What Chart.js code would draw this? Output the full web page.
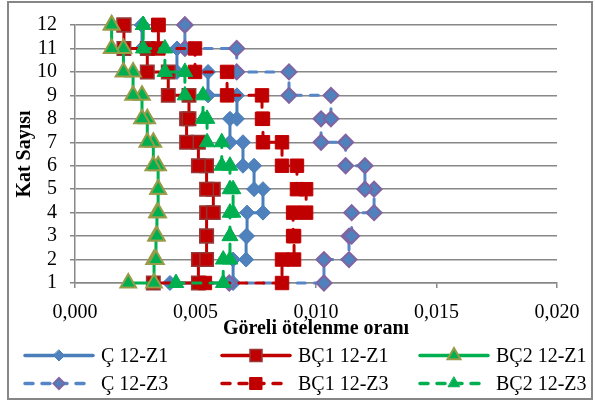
<!doctype html>
<head>
<meta charset="utf-8">
<style>
* {
    box-sizing: border-box;
    margin: 0;
    padding: 0;
}
body {
    background: #fff;
}
#wrap {
    position: relative;
    width: 595px;
    height: 403px;
}
</style>
</head>
<div id="wrap"><canvas></canvas></div>
<script src="https://cdn.jsdelivr.net/npm/chart.js"></script>
<script>

// floor levels, each floor carries two points (step profile)
let katlar = [1, 1, 2, 2, 3, 3, 4, 4, 5, 5, 6, 6, 7, 7, 8, 8, 9, 9, 10, 10, 11, 11, 12, 12]

let c_z1 = [0.00394, 0.00656, 0.00656, 0.00710, 0.00710, 0.00714, 0.00714, 0.00780, 0.00780, 0.00743, 0.00743, 0.00697,
            0.00697, 0.00643, 0.00643, 0.00672, 0.00672, 0.00552, 0.00552, 0.00423, 0.00423, 0.00278, 0.00278, 0.00278]
let bc1_z1 = [0.00325, 0.00512, 0.00512, 0.00546, 0.00546, 0.00546, 0.00546, 0.00574, 0.00574, 0.00546, 0.00546, 0.00512,
              0.00512, 0.00463, 0.00463, 0.00473, 0.00473, 0.00387, 0.00387, 0.00300, 0.00300, 0.00203, 0.00203, 0.00203]
let bc2_z1 = [0.00221, 0.00328, 0.00328, 0.00336, 0.00336, 0.00340, 0.00340, 0.00345, 0.00345, 0.00345, 0.00345, 0.00325,
              0.00325, 0.00300, 0.00300, 0.00278, 0.00278, 0.00241, 0.00241, 0.00201, 0.00201, 0.00152, 0.00152, 0.00152]
let c_z3 = [0.00640, 0.01033, 0.01033, 0.01137, 0.01137, 0.01148, 0.01148, 0.01241, 0.01241, 0.01203, 0.01203, 0.01123,
            0.01123, 0.01021, 0.01021, 0.01062, 0.01062, 0.00888, 0.00888, 0.00671, 0.00671, 0.00456, 0.00456, 0.00456]
let bc1_z3 = [0.00539, 0.00859, 0.00859, 0.00909, 0.00909, 0.00905, 0.00905, 0.00959, 0.00959, 0.00921, 0.00921, 0.00859,
              0.00859, 0.00780, 0.00780, 0.00776, 0.00776, 0.00631, 0.00631, 0.00498, 0.00498, 0.00346, 0.00346, 0.00346]
let bc2_z3 = [0.00419, 0.00615, 0.00615, 0.00643, 0.00643, 0.00643, 0.00643, 0.00656, 0.00656, 0.00643, 0.00643, 0.00609,
              0.00609, 0.00548, 0.00548, 0.00531, 0.00531, 0.00456, 0.00456, 0.00373, 0.00373, 0.00283, 0.00283, 0.00283]

let names = ['Ç 12-Z1', 'BÇ1 12-Z1', 'BÇ2 12-Z1', 'Ç 12-Z3', 'BÇ1 12-Z3', 'BÇ2 12-Z3']
let values = [c_z1, bc1_z1, bc2_z1, c_z3, bc1_z3, bc2_z3]

let x_ticks = [0, 0.005, 0.01, 0.015, 0.02]

let styles = [
    { line: '#4a7ebb', fill: '#4f81bd', edge: '#4a7ebb', edgeW: 1, marker: 'rectRot', r: 7.5, legendR: 5.5, dash: [] },
    { line: '#c00000', fill: '#c00000', edge: '#953735', edgeW: 1.5, marker: 'rect', r: 9.5, legendR: 8.5, dash: [] },
    { line: '#00b050', fill: '#00b050', edge: '#989c48', edgeW: 2, marker: 'triangle', r: 9, legendR: 7.5, dash: [] },
    { line: '#5686c6', fill: '#4f81bd', edge: '#8064a2', edgeW: 2, marker: 'rectRot', r: 7.5, legendR: 5.5, dash: [8, 9] },
    { line: '#c00000', fill: '#c00000', edge: '#c00000', edgeW: 1, marker: 'rect', r: 9.5, legendR: 8.5, dash: [8, 9] },
    { line: '#00b050', fill: '#00b050', edge: '#00b050', edgeW: 1, marker: 'triangle', r: 9, legendR: 6.5, dash: [8, 9] },
]

let font = '"Liberation Serif", "Times New Roman", serif'
let grey = '#888888'

let datasets = values.map((v, i) => {
    let s = styles[i]
    return {
        label: names[i],
        data: v.map((x, j) => ({ x: x, y: katlar[j] })),
        showLine: true,
        borderColor: s.line,
        borderWidth: 3,
        borderDash: s.dash,
        borderCapStyle: 'round',
        borderJoinStyle: 'round',
        pointStyle: s.marker,
        pointRadius: s.r,
        pointBackgroundColor: s.fill,
        pointBorderColor: s.edge,
        pointBorderWidth: s.edgeW,
        clip: false,
        order: values.length - i,
    }
})

function drawMarker(ctx, kind, x, y, r) {
    ctx.beginPath()
    if (kind === 'rectRot') {
        ctx.moveTo(x, y - r)
        ctx.lineTo(x + r, y)
        ctx.lineTo(x, y + r)
        ctx.lineTo(x - r, y)
    } else if (kind === 'rect') {
        let h = r * Math.SQRT1_2
        ctx.rect(x - h, y - h, 2 * h, 2 * h)
    } else {
        ctx.moveTo(x, y - r)
        ctx.lineTo(x + r * 0.866, y + r / 2)
        ctx.lineTo(x - r * 0.866, y + r / 2)
    }
    ctx.closePath()
}

// outer frame round the whole chart
let frame = {
    id: 'frame',
    beforeDraw(chart) {
        let ctx = chart.ctx
        ctx.save()
        ctx.fillStyle = '#fff'
        ctx.fillRect(0, 0, chart.width, chart.height)
        ctx.strokeStyle = '#868686'
        ctx.lineWidth = 2
        ctx.strokeRect(8, 2, 584, 397)
        ctx.restore()
    },
}

// two rows of three: line sample with marker, then the name
let legendRows = {
    id: 'legendRows',
    afterDraw(chart) {
        let ctx = chart.ctx
        let colX = [25, 222, 420]
        let rowY = [355.5, 383.5]
        ctx.save()
        chart.data.datasets.forEach((ds, i) => {
            let s = styles[i]
            let x0 = colX[i % 3]
            let y = rowY[Math.floor(i / 3)]
            ctx.strokeStyle = s.line
            ctx.lineWidth = 3.5
            ctx.lineCap = 'round'
            ctx.setLineDash(s.dash)
            ctx.beginPath()
            ctx.moveTo(x0, y)
            ctx.lineTo(x0 + 68, y)
            ctx.stroke()
            ctx.setLineDash([])
            drawMarker(ctx, s.marker, x0 + 34, y, s.legendR)
            ctx.fillStyle = s.fill
            ctx.fill()
            ctx.strokeStyle = s.edge
            ctx.lineWidth = s.edgeW
            ctx.stroke()
            ctx.fillStyle = '#000'
            ctx.font = '20px ' + font
            ctx.textBaseline = 'middle'
            ctx.fillText(ds.label, x0 + 76, y + 1)
        })
        ctx.restore()
    },
}

let chart = new Chart(document.querySelector('canvas'), {
    type: 'scatter',
    data: { datasets },
    options: {
        responsive: true,
        maintainAspectRatio: false,
        animation: false,
        layout: {
            padding: { left: 0, top: 23, right: 38, bottom: 58 },
        },
        scales: {
            x: {
                type: 'linear',
                min: 0,
                max: 0.02,
                afterBuildTicks(scale) {
                    scale.ticks = x_ticks.map(v => ({ value: v }))
                },
                afterFit(scale) {
                    scale.height = 62
                },
                border: { display: true, color: grey, width: 1.5 },
                grid: {
                    drawOnChartArea: false,
                    drawTicks: true,
                    tickLength: 5,
                    color: grey,
                    lineWidth: 1.5,
                },
                ticks: {
                    padding: 13,
                    color: '#000',
                    font: { family: font, size: 20 },
                    maxRotation: 0,
                    autoSkip: false,
                    callback: v => v.toFixed(3).replace('.', ','),
                },
                title: {
                    display: true,
                    text: 'Göreli ötelenme oranı',
                    color: '#000',
                    font: { family: font, size: 20, weight: 'bold' },
                    padding: { top: 0, bottom: 4 },
                },
            },
            y: {
                type: 'linear',
                min: 1,
                max: 12,
                afterFit(scale) {
                    scale.width = 75
                },
                border: { display: true, color: grey, width: 1.5 },
                grid: {
                    color: grey,
                    lineWidth: 1.5,
                    drawTicks: true,
                    tickLength: 5,
                },
                ticks: {
                    stepSize: 1,
                    autoSkip: false,
                    padding: 13,
                    color: '#000',
                    font: { family: font, size: 20 },
                },
                title: {
                    display: true,
                    text: 'Kat Sayısı',
                    color: '#000',
                    font: { family: font, size: 20, weight: 'bold' },
                    padding: { top: 13, bottom: 0 },
                },
            },
        },
        plugins: {
            legend: { display: false },
            tooltip: { enabled: false },
        },
    },
    plugins: [frame, legendRows],
})

</script>
